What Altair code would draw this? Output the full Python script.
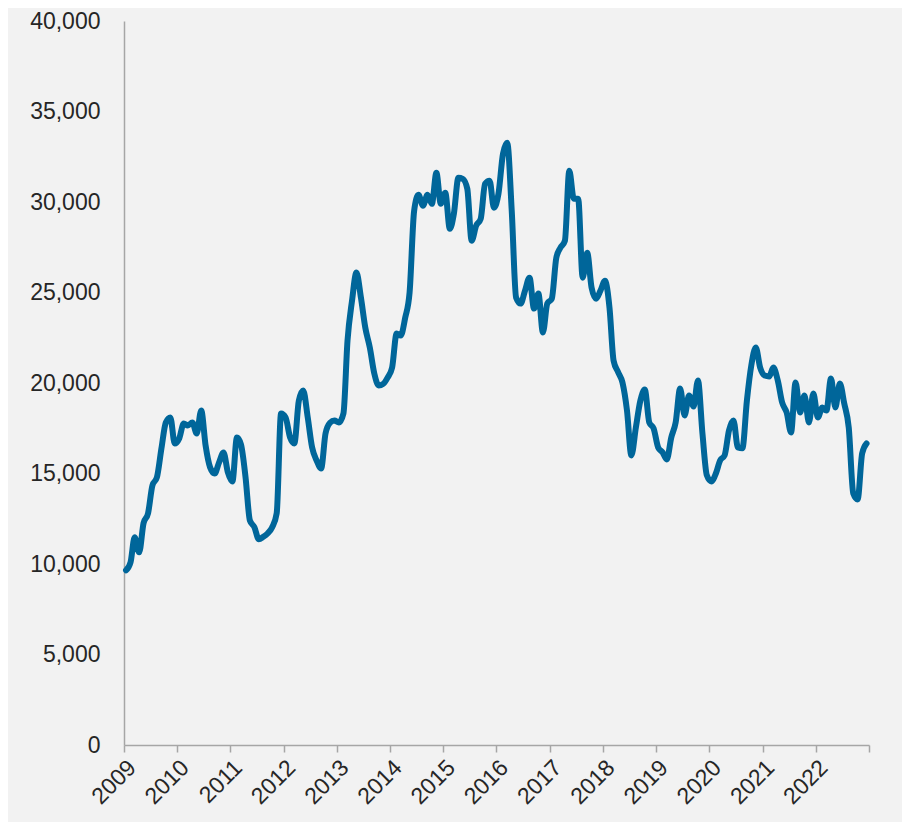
import altair as alt
import pandas as pd

# Monthly values, Jan 2009 - Dec 2022
values = [
    9650, 10100, 11475, 10650, 12250, 12800, 14340, 14790, 16390, 17820, 18100, 16660,
    16940, 17760, 17650, 17820, 17210, 18480, 16550, 15340, 15000, 15600, 16160, 15060,
    14560, 16990, 16600, 14800, 12400, 12030, 11370, 11500, 11700, 12030, 12800, 18320,
    18100, 16990, 16660, 19030, 19590, 18100, 16440, 15720, 15280, 17210, 17800, 17930,
    17820, 18320, 22340, 24550, 26100, 24720, 23060, 21960, 20520, 19860, 19950, 20300,
    20850, 22730, 22620, 23610, 25000, 29500, 30400, 29790, 30400, 29900, 31610, 29900,
    30510, 28520, 29350, 31340, 31280, 30730, 27860, 28690, 29070, 31000, 31170, 29680,
    30450, 32660, 33270, 29520, 24720, 24390, 25100, 25820, 24110, 24940, 22790, 24390,
    24660, 26920, 27470, 27860, 31720, 30180, 30180, 25820, 27200, 25270, 24660, 25100,
    25650, 24160, 21240, 20600, 20030, 18480, 16000, 17540, 19030, 19640, 17820, 17490,
    16440, 16160, 15780, 16990, 17820, 19700, 18210, 19310, 18700, 20140, 17210, 14900,
    14560, 15000, 15720, 16000, 17380, 17930, 16440, 16390, 19030, 20960, 21960, 20850,
    20410, 20360, 20850, 20140, 18920, 18370, 17270, 20030, 18370, 19310, 17820, 19420,
    18100, 18650, 18480, 20250, 18650, 19970, 18870, 17540, 13900, 13570, 16110, 16660,
]

months = (pd.date_range("2009-01-01", periods=len(values), freq="MS")
          + pd.Timedelta(days=14)).strftime("%Y-%m-%d").tolist()

years = list(range(2009, 2024))
y_ticks = [0, 5000, 10000, 15000, 20000, 25000, 30000, 35000, 40000]

df = pd.DataFrame({"date": months, "value": values})

FONT = "Liberation Sans"
TEXT = "#262626"
AXIS = "#a6a6a6"

x_axis = alt.Axis(
    title=None,
    values=[alt.DateTime(year=y, month=1, date=1, utc=True) for y in years],
    labelExpr="utcFormat(datum.value, '%Y') == '2023' ? '' : utcFormat(datum.value, '%Y')",
    labelAngle=-45,
    labelAlign="right",
    labelBaseline="top",
    labelPadding=4,
    labelOffset=0,
    labelFont=FONT,
    labelFontSize=23,
    labelColor=TEXT,
    labelOverlap=False,
    labelFlush=False,
    domainColor=AXIS,
    domainWidth=1.5,
    tickColor=AXIS,
    tickWidth=1.5,
    tickSize=7,
    grid=False,
)

y_axis = alt.Axis(
    title=None,
    values=y_ticks,
    format=",.0f",
    ticks=False,
    tickSize=0,
    labelPadding=24,
    labelFont=FONT,
    labelFontSize=23,
    labelColor=TEXT,
    domainColor=AXIS,
    domainWidth=1.5,
    grid=False,
)

chart = (
    alt.Chart(df)
    .mark_line(interpolate="monotone", strokeWidth=6, color="#00669a", strokeCap="round")
    .encode(
        x=alt.X(
            "date:T",
            scale=alt.Scale(
                type="utc",
                domain=[
                    alt.DateTime(year=2009, month=1, date=1, utc=True),
                    alt.DateTime(year=2023, month=1, date=1, utc=True),
                ],
            ),
            axis=x_axis,
        ),
        y=alt.Y("value:Q", scale=alt.Scale(domain=[0, 40000], nice=False), axis=y_axis),
    )
    .properties(
        width=745,
        height=724,
        autosize=alt.AutoSizeParams(type="none"),
        padding={"left": 116, "top": 13, "right": 33, "bottom": 77},
        background="#f2f2f2",
    )
    .configure_view(stroke=None)
)

chart.save("out.html", embed_options={"renderer": "svg", "actions": False})
